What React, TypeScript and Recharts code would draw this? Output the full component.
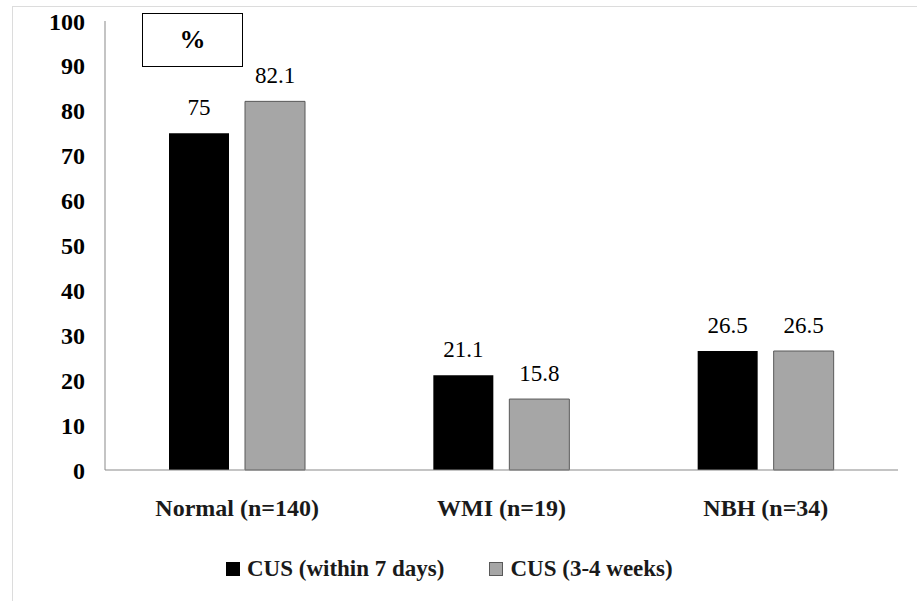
import React from 'react';
import { BarChart, Bar, XAxis, YAxis, LabelList } from 'recharts';

const categories = ['Normal (n=140)', 'WMI (n=19)', 'NBH (n=34)'];
const within7Days = [75, 21.1, 26.5];
const weeks3to4 = [82.1, 15.8, 26.5];
const yTicks = [0, 10, 20, 30, 40, 50, 60, 70, 80, 90, 100];
const seriesNames = ['CUS (within 7 days)', 'CUS (3-4 weeks)'];

const data = categories.map((name, i) => ({
  name,
  a: within7Days[i],
  b: weeks3to4[i],
}));

// legend drawn as plain html under the plot
const LegendBox = () => (
  <div
    style={{
      position: 'absolute',
      left: 226,
      top: 555,
      height: 28,
      display: 'flex',
      alignItems: 'center',
      fontFamily: 'Liberation Serif',
      fontWeight: 'bold',
      fontSize: 23,
      color: '#1a1a1a',
      whiteSpace: 'nowrap',
    }}
  >
    <span style={{ width: 14, height: 14, background: '#000', display: 'inline-block', marginRight: 7 }} />
    <span style={{ marginRight: 45 }}>{seriesNames[0]}</span>
    <span style={{ width: 12, height: 12, background: '#a6a6a6', border: '1px solid #595959', display: 'inline-block', marginRight: 7 }} />
    <span>{seriesNames[1]}</span>
  </div>
);

export default function App() {
  return (
    <div style={{ position: 'absolute', left: 0, top: 0, width: 917, height: 601, background: '#fff', overflow: 'hidden', fontFamily: 'Liberation Serif' }}>
      <div style={{ position: 'absolute', left: 12, top: 6, width: 920, height: 620, borderTop: '1px solid #dcdcdc', borderLeft: '1px solid #dcdcdc' }} />
      <BarChart
        width={917}
        height={601}
        data={data}
        margin={{ top: 21, right: 19, left: 0, bottom: 0 }}
        barSize={60}
        barGap={16}
      >
        <XAxis
          dataKey="name"
          axisLine={{ stroke: '#898989' }}
          tickLine={false}
          tickSize={0}
          tickMargin={29}
          height={131}
          tick={{ fill: '#1a1a1a', fontFamily: 'Liberation Serif', fontWeight: 'bold', fontSize: 24 }}
        />
        <YAxis
          domain={[0, 100]}
          ticks={yTicks}
          interval={0}
          width={105}
          axisLine={{ stroke: '#898989' }}
          tickLine={false}
          tickSize={0}
          tickMargin={20}
          tick={{ fill: '#000', fontFamily: 'Liberation Serif', fontWeight: 'bold', fontSize: 24 }}
        />
        <Bar dataKey="a" name={seriesNames[0]} fill="#000" isAnimationActive={false}>
          <LabelList dataKey="a" position="top" offset={18} fill="#000" fontFamily="Liberation Serif" fontSize={23} />
        </Bar>
        <Bar dataKey="b" name={seriesNames[1]} fill="#a6a6a6" stroke="#595959" strokeWidth={1} isAnimationActive={false}>
          <LabelList dataKey="b" position="top" offset={18} fill="#000" fontFamily="Liberation Serif" fontSize={23} />
        </Bar>
      </BarChart>
      <LegendBox />
      <div
        style={{
          position: 'absolute',
          left: 142,
          top: 13,
          width: 99,
          height: 52,
          border: '1px solid #000',
          display: 'flex',
          alignItems: 'center',
          justifyContent: 'center',
          fontFamily: 'Liberation Serif',
          fontWeight: 'bold',
          fontSize: 26,
        }}
      >
        %
      </div>
    </div>
  );
}
